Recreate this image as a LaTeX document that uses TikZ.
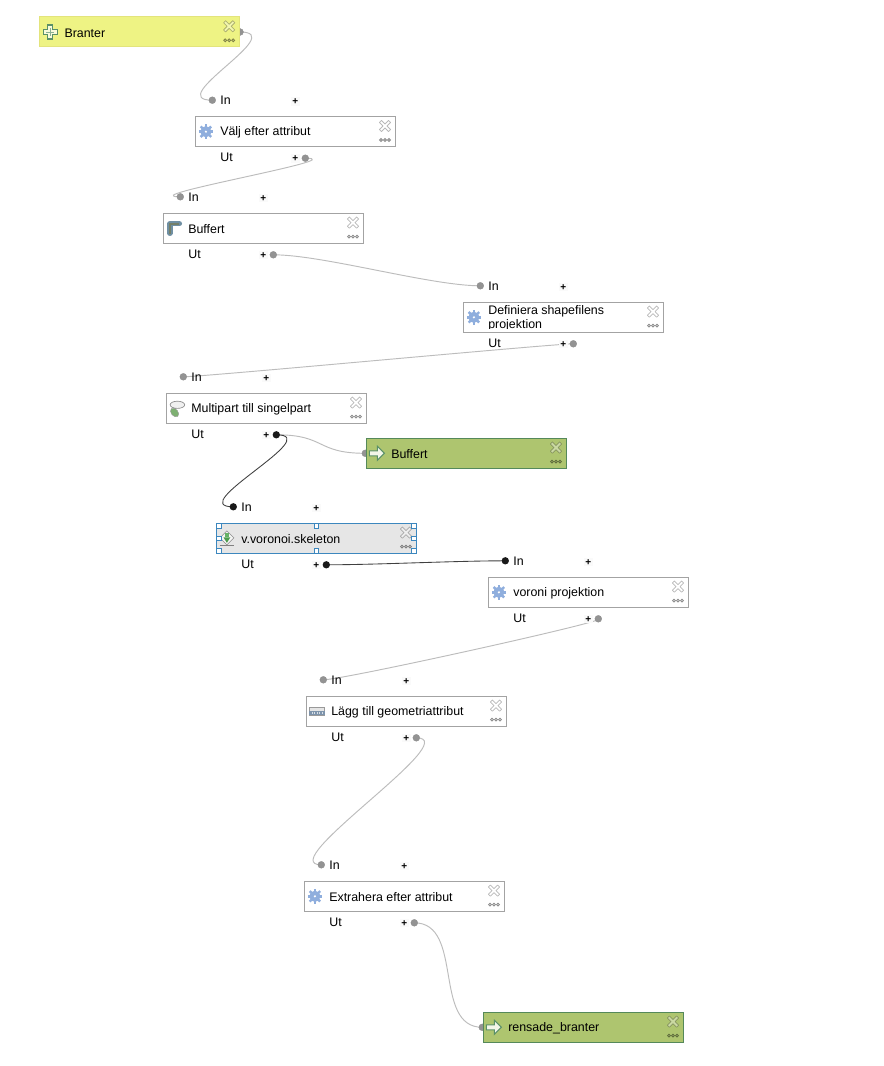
\documentclass[tikz,border=0pt]{standalone}
\usepackage{fontspec}
\setmainfont{Liberation Sans}
\usetikzlibrary{calc,backgrounds}
\definecolor{boxline}{HTML}{A3A3A3}
\definecolor{portgray}{HTML}{939393}
\definecolor{wiregray}{HTML}{BCBCBC}
\definecolor{inputfill}{HTML}{EEF384}
\definecolor{inputline}{HTML}{E3E47C}
\definecolor{outputfill}{HTML}{AEC56F}
\definecolor{outputline}{HTML}{55895A}
\definecolor{selfill}{HTML}{E6E6E6}
\definecolor{selline}{HTML}{3C87BE}
\definecolor{gearblue}{HTML}{8FAEDD}
\definecolor{icongreen}{HTML}{5A9068}
\definecolor{buffblue}{HTML}{6F8FA3}
\definecolor{buffolive}{HTML}{747F68}
\definecolor{blobgreen}{HTML}{7DB071}
\definecolor{rulerblue}{HTML}{7E94AC}
\tikzset{
  x=0.75pt,y=-0.75pt,
  every node/.style={font=\fontsize{9.3pt}{10.5pt}\selectfont,inner sep=0pt,outer sep=0pt},
  modelbox/.style={rectangle,anchor=north west,minimum width=150pt,minimum height=22.5pt,line width=.75pt},
  algstyle/.style={modelbox,draw=boxline,fill=white},
  inputstyle/.style={modelbox,draw=inputline,fill=inputfill},
  outputstyle/.style={modelbox,draw=outputline,fill=outputfill},
  selstyle/.style={modelbox,draw=selline,fill=selfill},
  porttext/.style={anchor=west,text=black},
  portdot/.style={circle,minimum size=5.2pt,fill=portgray,draw=black!45,line width=.2pt},
  blackdot/.style={circle,minimum size=5.5pt,fill=black!90},
  plusmark/.style={fill=black!2,minimum size=6.4pt,font=\fontsize{7.5pt}{8pt}\selectfont\bfseries},
  wire/.style={draw=wiregray,line width=.7pt},
  darkwire/.style={draw=black!75,line width=.65pt},
  handle/.style={draw=selline,fill=white,line width=.6pt,minimum size=3.6pt,rectangle},
  gearicon/.pic={
    \foreach \a in {0,45,...,315}{\draw[gearblue,line width=1.8pt] (0,0) -- (\a:7.4);}
    \fill[gearblue] (0,0) circle[radius=5.6];
    \fill[white] (0,0) circle[radius=1.2];
  },
  plusicon/.pic={
    \draw[icongreen,fill=white!70!inputfill,line width=.85pt] (-2.6,-7) -- (2.6,-7) -- (2.6,-2.6) -- (7,-2.6) -- (7,2.6) -- (2.6,2.6) -- (2.6,7) -- (-2.6,7) -- (-2.6,2.6) -- (-7,2.6) -- (-7,-2.6) -- (-2.6,-2.6) -- cycle;
    \draw[icongreen!70!white,line width=.6pt] (-4,0) -- (4,0) (0,-4) -- (0,4);
  },
  arrowicon/.pic={
    \draw[icongreen,fill=white!85!outputfill,line width=.8pt] (-7.5,-2.5) -- (0.5,-2.5) -- (0.5,-7) -- (7.5,0) -- (0.5,7) -- (0.5,2.5) -- (-7.5,2.5) -- cycle;
  },
  bufficon/.pic={
    \draw[draw=buffblue,line width=4pt,line join=round,line cap=round] (-4,5) -- (-4,-4.5) -- (5.5,-4.5);
    \draw[draw=buffolive,line width=1.6pt] (-4,6) -- (-4,-4.5) -- (5.5,-4.5);
  },
  multiicon/.pic={
    \draw[black!45,fill=black!6,line width=.5pt] (0.5,-3.5) ellipse[x radius=7.3,y radius=3.6];
    \draw[black!45,line width=.5pt] (-1,0) -- (-2,2);
    \fill[blobgreen,draw=black!40,line width=.3pt,rotate around={-50:(-2.3,4.2)}] (-2.3,4.2) ellipse[x radius=5,y radius=3.4];
  },
  voronoiicon/.pic={
    \draw[black!45,fill=black!4,line width=.4pt] (0,-7.5) -- (7,-0.5) -- (0,6.5) -- (-7,-0.5) -- cycle;
    \fill[green!45!black!70] (-3.5,-1) -- (3.5,-1) -- (0,4.5) -- cycle;
    \fill[green!50!black!60] (-1.6,-5) rectangle (1.6,-1);
    \draw[black!50,line width=.5pt] (-7,7.5) -- (7,7.5);
  },
  rulericon/.pic={
    \draw[black!40,fill=black!10,line width=.5pt] (-7.7,-3.8) rectangle (7.7,3.8);
    \fill[rulerblue] (-7.7,-0.3) rectangle (7.7,3.8);
    \foreach \p in {-5,-2.5,0,2.5,5}{\draw[white!70!rulerblue,line width=.5pt] (\p,0.5) -- (\p,2.5);}
  },
  closeicon/.pic={
    \draw[draw=black,draw opacity=.28,fill=white,fill opacity=.35,line width=.55pt,line join=round]
      (-5.6,-3.6) -- (-3.6,-5.6) -- (0,-2) -- (3.6,-5.6) -- (5.6,-3.6) -- (2,0) -- (5.6,3.6) -- (3.6,5.6) -- (0,2) -- (-3.6,5.6) -- (-5.6,3.6) -- (-2,0) -- cycle;
  },
  moreicon/.pic={
    \foreach \p in {-4,0,4}{\draw[draw=black,draw opacity=.42,fill=black,fill opacity=.12,line width=.6pt] (\p,0) circle[radius=1.5];}
  },
}
% decorations common to every box, in local pixel coordinates
\newcommand{\boxextras}[2]{%
  \pic at (10.6,15) {#1};
  \pic at (189.7,9.3) {closeicon};
  \pic at (189.7,23.3) {moreicon};
  \node[porttext] (#2-label) at (25,15.8) {\boxtext};
}
\newcommand{\inports}[2]{%
  \node[#2] (#1-in) at (17,-16.5) {};
  \node[porttext] (#1-intext) at (25,-16.2) {In};
  \node[plusmark] (#1-inplus) at (100,-15.2) {+};
}
\newcommand{\outports}[2]{%
  \node[porttext] (#1-uttext) at (25,41) {Ut};
  \node[plusmark] (#1-outplus) at (100,41.8) {+};
  \node[#2] (#1-out) at (110,41.5) {};
}
% name, x, y, box style, icon, text, in dot style, out dot style
\newcommand{\algbox}[8]{%
  \begin{scope}[shift={(#2,#3)}]
    \node[#4] (#1) at (0,0) {};
    \def\boxtext{#6}\boxextras{#5}{#1}
    \inports{#1}{#7}\outports{#1}{#8}
  \end{scope}}
% from, to, horizontal reach at the start, at the end, style
\newcommand{\conn}[5]{%
  \begin{scope}[on background layer]
    \draw[#5] (#1.center) .. controls ($(#1.center)+(#3,0)$) and ($(#2.center)+({-(#4)},0)$) .. (#2.center);
  \end{scope}}
\begin{document}
\begin{tikzpicture}
\useasboundingbox (0,0) rectangle (883,1066);
\begin{scope}[on background layer]
  \fill[white] (0,0) rectangle (883,1066);
\end{scope}

% input parameter
\begin{scope}[shift={(39.5,17)}]
  \node[portdot] (branter-out) at (200.5,15) {};
  \node[inputstyle] (branter) at (0,0) {};
  \def\boxtext{Branter}\boxextras{plusicon}{branter}
\end{scope}

\algbox{valj}{195.3}{116.7}{algstyle}{gearicon}{Välj efter attribut}{portdot}{portdot}
\algbox{buff}{163.3}{213.3}{algstyle}{bufficon}{Buffert}{portdot}{portdot}

% text that overflows its box and is cut off there
\begin{scope}[shift={(463.3,302.3)}]
  \node[algstyle] (def) at (0,0) {};
  \pic at (10.6,15) {gearicon};
  \pic at (189.7,9.3) {closeicon};
  \pic at (189.7,23.3) {moreicon};
  \begin{scope}
    \clip (0,0) rectangle (200,26.5);
    \node[anchor=north west,align=left,text=black] (def-label) at (25,3.6) {Definiera shapefilens\\projektion};
  \end{scope}
  \inports{def}{portdot}\outports{def}{portdot}
\end{scope}

\algbox{multi}{166.3}{393.3}{algstyle}{multiicon}{Multipart till singelpart}{portdot}{blackdot}

% output 1
\begin{scope}[shift={(366.3,438.3)}]
  \node[portdot] (utbuff-in) at (-1,15) {};
  \node[outputstyle] (utbuff) at (0,0) {};
  \def\boxtext{Buffert}\boxextras{arrowicon}{utbuff}
\end{scope}

\algbox{voro}{216.3}{523.3}{selstyle}{voronoiicon}{v.voronoi.skeleton}{blackdot}{blackdot}
\foreach \hx/\hy [count=\hi] in {218.8/525.8,316.3/525.8,413.8/525.8,218.8/538.3,413.8/538.3,218.8/550.8,316.3/550.8,413.8/550.8}{
  \node[handle] (h\hi) at (\hx,\hy) {};
}

\algbox{vproj}{488.3}{577.3}{algstyle}{gearicon}{voroni projektion}{blackdot}{portdot}
\algbox{lagg}{306.3}{696.3}{algstyle}{rulericon}{Lägg till geometriattribut}{portdot}{portdot}
\algbox{extr}{304.3}{881.3}{algstyle}{gearicon}{Extrahera efter attribut}{portdot}{portdot}

% output 2
\begin{scope}[shift={(483.3,1012.3)}]
  \node[portdot] (rens-in) at (-1,15) {};
  \node[outputstyle] (rens) at (0,0) {};
  \def\boxtext{rensade\_branter}\boxextras{arrowicon}{rens}
\end{scope}

\conn{branter-out}{valj-in}{50}{50}{wire}
\conn{valj-out}{buff-in}{50}{50}{wire}
\conn{buff-out}{def-in}{50}{50}{wire}
\conn{def-out}{multi-in}{-20}{-20}{wire}
\conn{multi-out}{utbuff-in}{50}{50}{wire}
\conn{multi-out}{voro-in}{50}{50}{darkwire}
\conn{voro-out}{vproj-in}{50}{50}{darkwire}
\conn{vproj-out}{lagg-in}{20}{-20}{wire}
\conn{lagg-out}{extr-in}{50}{50}{wire}
\conn{extr-out}{rens-in}{50}{50}{wire}
\end{tikzpicture}
\end{document}
